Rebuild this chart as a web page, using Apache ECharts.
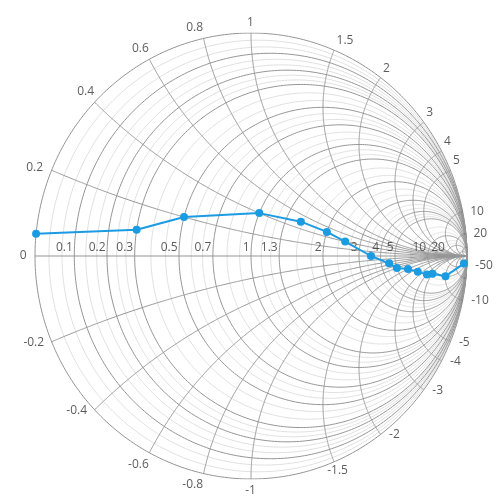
<!DOCTYPE html>
<html>
<head>
<meta charset="utf-8">
<script src="https://cdn.jsdelivr.net/npm/echarts@6/dist/echarts.min.js"></script>
<style>
html, body { margin: 0; padding: 0; background: #fff; }
#main { width: 500px; height: 500px; }
</style>
</head>
<body>
<div id="main"></div>
<script>
// impedance points (normalised): resistance + j reactance
var resistance = [0, 0.3, 0.5, 1, 1.5, 2, 2.5, 3.5, 4.5, 5, 6, 7, 8, 9, 10, 20];
var reactance = [0.05, 0.1, 0.2, 0.4, 0.5, 0.5, 0.4, 0, -0.5, -1, -1.5, -2.5, -4, -5, -10, -50];

// grid circles
var rMajor = [0, 0.1, 0.2, 0.3, 0.5, 0.7, 1, 1.3, 2, 3, 4, 5, 10, 20, 50];
var xMajor = [0.2, 0.4, 0.6, 0.8, 1, 1.5, 2, 3, 4, 5, 10, 20, 50];

// tick labels
var rLabels = [0.1, 0.2, 0.3, 0.5, 0.7, 1, 1.3, 2, 3, 4, 5, 10, 20];
var xLabels = [0.2, 0.4, 0.6, 0.8, 1, 1.5, 2, 3, 4, 5, 10, 20,
	-0.2, -0.4, -0.6, -0.8, -1, -1.5, -2, -3, -4, -5, -10, -50];

var FONT = "'Segoe UI', 'Open Sans', 'Noto Sans', sans-serif";

// z = r + jx  ->  reflection coefficient
function gamma(r, x) {
	var d = (r + 1) * (r + 1) + x * x;
	return [(r * r + x * x - 1) / d, 2 * x / d];
}

function rCircle(r) {
	var cx = r / (1 + r), R = 1 / (1 + r), pts = [];
	for (var k = 0; k <= 360; k++) {
		var a = k * Math.PI / 180;
		pts.push([cx + R * Math.cos(a), R * Math.sin(a)]);
	}
	return pts;
}

function xArc(x) {
	var N = 400, pts = [];
	for (var s = 0; s < N; s++) pts.push(gamma(s / (N - s), x));
	pts.push([1, 0]);
	return pts;
}

// two minor circles between each pair of major ones
var rMinor = [];
for (var i = 0; i < rMajor.length - 1; i++) {
	var a = rMajor[i], b = rMajor[i + 1];
	rMinor.push(a + (b - a) / 3, a + 2 * (b - a) / 3);
}

var minorLines = rMinor.map(function (r) { return { coords: rCircle(r) }; });
var majorLines = rMajor.map(function (r) { return { coords: rCircle(r) }; });
xMajor.forEach(function (x) {
	majorLines.push({ coords: xArc(x) });
	majorLines.push({ coords: xArc(-x) });
});
majorLines.push({ coords: [[-1, 0], [1, 0]] });

function edgeLabel(x) {
	var g = gamma(0, x);
	var a = Math.atan2(g[1], g[0]) * 180 / Math.PI;
	var l = { align: 'left', verticalAlign: 'middle', offset: [8, 0] };
	if (a >= 0) {
		if (a >= 150) l = { align: 'right', verticalAlign: 'middle', offset: [-8, -2] };
		else if (a > 100) l = { align: 'right', verticalAlign: 'bottom', offset: [0, -4] };
		else if (a >= 80) l = { align: 'center', verticalAlign: 'bottom', offset: [0, -4] };
		else if (a >= 15) l = { align: 'left', verticalAlign: 'bottom', offset: [3, -3] };
	} else {
		if (a <= -130) l = { align: 'right', verticalAlign: 'middle', offset: [-7, 1] };
		else if (a < -100) l = { align: 'right', verticalAlign: 'top', offset: [0, 6] };
		else if (a <= -80) l = { align: 'center', verticalAlign: 'top', offset: [0, 6] };
		else if (a <= -60) l = { align: 'center', verticalAlign: 'top', offset: [4, 3] };
		else l = { align: 'left', verticalAlign: 'middle', offset: [9, 1] };
	}
	return { name: String(x), value: g, label: l };
}

var edgeData = xLabels.map(edgeLabel);
edgeData.push({ name: '0', value: [-1, 0], label: { align: 'right', verticalAlign: 'middle', offset: [-8, 0] } });

var rData = rLabels.map(function (r) { return { name: String(r), value: gamma(r, 0) }; });

var points = resistance.map(function (r, i) { return gamma(r, reactance[i]); });

var chart = echarts.init(document.getElementById('main'));
chart.setOption({
	animation: false,
	grid: { left: 35, right: 33, top: 33, bottom: 21 },
	xAxis: { type: 'value', min: -1, max: 1, show: false },
	yAxis: { type: 'value', min: -1, max: 1, show: false },
	series: [
		{
			type: 'lines', coordinateSystem: 'cartesian2d', polyline: true, silent: true,
			lineStyle: { color: '#e0e0e0', width: 1, opacity: 1 },
			data: minorLines, z: 1
		},
		{
			type: 'lines', coordinateSystem: 'cartesian2d', polyline: true, silent: true,
			lineStyle: { color: '#959595', width: 1, opacity: 1 },
			data: majorLines, z: 2
		},
		{
			type: 'scatter', symbolSize: 1, silent: true, z: 3,
			itemStyle: { color: 'rgba(0,0,0,0)' },
			label: { show: true, position: [0, 0], formatter: '{b}', color: '#333', fontSize: 12, fontFamily: FONT },
			data: edgeData
		},
		{
			type: 'scatter', symbolSize: 1, silent: true, z: 3,
			itemStyle: { color: 'rgba(0,0,0,0)' },
			label: { show: true, position: [0, 0], formatter: '{b}', color: '#333', fontSize: 12, fontFamily: FONT,
				align: 'right', verticalAlign: 'bottom', offset: [-1, -2] },
			data: rData
		},
		{
			name: 'Transmission', type: 'line', z: 5,
			symbol: 'circle', symbolSize: 8, showSymbol: true,
			itemStyle: { color: '#1b9ce2' },
			lineStyle: { color: '#1b9ce2', width: 2 },
			data: points
		}
	]
});
</script>
</body>
</html>
